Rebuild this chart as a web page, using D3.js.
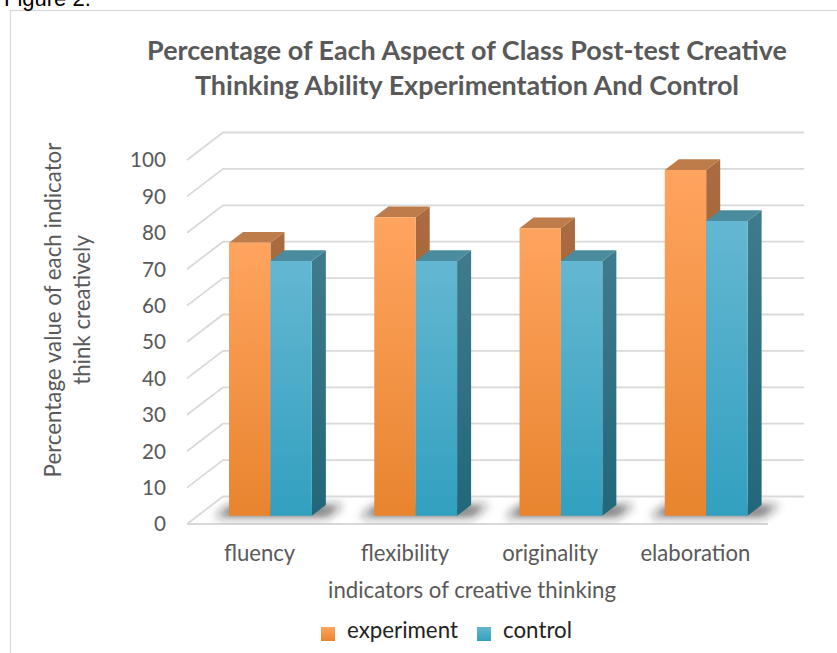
<!DOCTYPE html>
<html>
<head>
<meta charset="utf-8">
<script src="https://cdn.jsdelivr.net/npm/d3@7"></script>
<style>
  html, body { margin: 0; padding: 0; background: #fff; overflow: hidden; }
  svg text { font-family: Lato, "Open Sans", sans-serif; }
</style>
</head>
<body>
<svg id="chart" width="837" height="653"></svg>
<script>
// ---- data ----
const categories = ["fluency", "flexibility", "originality", "elaboration"];
const seriesNames = ["experiment", "control"];
const experiment = [75, 82, 79, 95];
const control = [70, 70, 70, 81];
const yTicks = [0, 10, 20, 30, 40, 50, 60, 70, 80, 90, 100];
const titleLines = ["Percentage of Each Aspect of Class Post-test Creative",
                    "Thinking Ability Experimentation And Control"];
const yTitleLines = ["Percentage value of each indicator", "think creatively"];
const xTitle = "indicators of creative thinking";

const values = { experiment, control };

// ---- geometry of the oblique 3-D box ----
const svg = d3.select("#chart");
const X0 = 187, X1 = 768;            // front plane, left/right
const DEPTH = { dx: 36, dy: -27.5 }; // vector from front to back wall
const BAR_D0 = 0.30, BAR_D1 = 0.69;  // depth slice occupied by the columns

const x = d3.scaleBand().domain(categories).range([X0, X1])
  .paddingInner(0.43).paddingOuter(0.215);
const xs = d3.scaleBand().domain(seriesNames).range([0, x.bandwidth()]);
const y = d3.scaleLinear().domain([0, 100]).range([524, 160]);

const P = (px, py, d) => [px + d * DEPTH.dx, py + d * DEPTH.dy];
const poly = pts => pts.map(p => p.join(",")).join(" ");

// ---- gradients ----
const defs = svg.append("defs");
function vGrad(id, c0, c1) {
  const g = defs.append("linearGradient").attr("id", id)
    .attr("x1", 0).attr("y1", 0).attr("x2", 0).attr("y2", 1);
  g.append("stop").attr("offset", "0%").attr("stop-color", c0);
  g.append("stop").attr("offset", "100%").attr("stop-color", c1);
}
vGrad("gExpFront", "#FFA45F", "#E8842E");
vGrad("gExpSide", "#A96B40", "#A05E2C");
vGrad("gCtlFront", "#64B7D2", "#32A0BF");
vGrad("gCtlSide", "#3F7B8C", "#22677A");
const palette = {
  experiment: { front: "url(#gExpFront)", side: "url(#gExpSide)", top: "#BE7C4B" },
  control:    { front: "url(#gCtlFront)", side: "url(#gCtlSide)", top: "#4A8B9E" }
};
defs.append("filter").attr("id", "soft").attr("x", "-50%").attr("y", "-50%")
  .attr("width", "200%").attr("height", "200%")
  .append("feGaussianBlur").attr("stdDeviation", 5);

// ---- outer frame + caption ----
svg.append("rect").attr("x", 10.5).attr("y", 10.5).attr("width", 900).attr("height", 700)
  .attr("fill", "none").attr("stroke", "#D9D9D9").attr("stroke-width", 1.3);
svg.append("text").attr("x", 4).attr("y", 6).attr("font-size", 22)
  .style("font-family", "'Liberation Sans', Arial, sans-serif").attr("fill", "#000")
  .text("Figure 2.");

// ---- title ----
function fit(sel, target) {
  const w = sel.node().getComputedTextLength();
  const fs = parseFloat(sel.attr("font-size"));
  return fs * target / w;
}
const title = svg.append("g");
titleLines.forEach((t, i) => {
  title.append("text").attr("x", 467).attr("y", 60 + i * 35)
    .attr("text-anchor", "middle").attr("font-size", 24).attr("font-weight", 700)
    .attr("fill", "#595959").text(t);
});
title.selectAll("text").attr("font-size", fit(title.select("text"), 640));

// ---- gridlines: side wall diagonals + back wall horizontals ----
const grid = svg.append("g").attr("fill", "none").attr("stroke", "#D9D9D9")
  .attr("stroke-width", 1.8);
grid.selectAll("polyline").data(yTicks).join("polyline")
  .attr("points", v => poly([P(X0, y(v), 0), P(X0, y(v), 1), P(X1, y(v), 1)]));
grid.append("line").attr("x1", X0).attr("x2", X1).attr("y1", y(0)).attr("y2", y(0));

// ---- y tick labels ----
const yAxisG = svg.append("g");
yAxisG.selectAll("text").data(yTicks).join("text")
  .attr("x", 166).attr("y", v => y(v)).attr("dy", "0.36em")
  .attr("text-anchor", "end").attr("font-size", 19).attr("fill", "#595959")
  .text(v => v);
yAxisG.selectAll("text").attr("font-size", fit(yAxisG.selectAll("text").filter(v => v === 100), 36));

// ---- floor shadows ----
const shadows = svg.append("g").attr("filter", "url(#soft)");
categories.forEach(c => {
  const xl = x(c) - 14, xr = x(c) + x.bandwidth() + 16, yb = y(0) + 1;
  shadows.append("polygon")
    .attr("points", poly([P(xl, yb, BAR_D0 - 0.02), P(xr, yb, BAR_D0 - 0.02),
                          P(xr, yb, BAR_D1 + 0.05), P(xl, yb, BAR_D1 + 0.05)]))
    .attr("fill", "#222").attr("opacity", 0.6);
});

// ---- 3-D columns ----
const bars = svg.append("g");
categories.forEach((c, i) => {
  seriesNames.forEach(s => {
    const v = values[s][i];
    const xl = x(c) + xs(s), xr = xl + xs.bandwidth();
    const yt = y(v), yb = y(0);
    const col = palette[s];
    const g = bars.append("g");
    // right side face
    g.append("polygon")
      .attr("points", poly([P(xr, yt, BAR_D0), P(xr, yt, BAR_D1), P(xr, yb, BAR_D1), P(xr, yb, BAR_D0)]))
      .attr("fill", col.side);
    // top face
    g.append("polygon")
      .attr("points", poly([P(xl, yt, BAR_D0), P(xr, yt, BAR_D0), P(xr, yt, BAR_D1), P(xl, yt, BAR_D1)]))
      .attr("fill", col.top);
    // front face
    const f0 = P(xl, yt, BAR_D0), f1 = P(xr, yb, BAR_D0);
    g.append("rect").attr("x", f0[0]).attr("y", f0[1])
      .attr("width", f1[0] - f0[0]).attr("height", f1[1] - f0[1])
      .attr("fill", col.front);
  });
});

// ---- category labels ----
const catG = svg.append("g");
catG.selectAll("text").data(categories).join("text")
  .attr("x", c => x(c) + x.bandwidth() / 2).attr("y", 561)
  .attr("text-anchor", "middle").attr("font-size", 19).attr("fill", "#595959")
  .text(c => c);
catG.selectAll("text").attr("font-size", fit(catG.selectAll("text").filter(c => c === "elaboration"), 110));

// ---- axis titles ----
const xt = svg.append("text").attr("x", 472).attr("y", 598)
  .attr("text-anchor", "middle").attr("font-size", 19).attr("fill", "#595959").text(xTitle);
xt.attr("font-size", fit(xt, 288));

const yT = svg.append("g").attr("transform", "translate(0,310) rotate(-90)");
yTitleLines.forEach((t, i) => {
  yT.append("text").attr("x", 0).attr("y", 61 + i * 29)
    .attr("text-anchor", "middle").attr("font-size", 19).attr("fill", "#595959").text(t);
});
yT.selectAll("text").attr("font-size", fit(yT.select("text"), 335));

// ---- legend ----
const legend = svg.append("g");
const legendX = [321, 477];
seriesNames.forEach((s, i) => {
  legend.append("rect").attr("x", legendX[i]).attr("y", 627).attr("width", 14).attr("height", 14)
    .attr("fill", palette[s].front);
  legend.append("text").attr("x", legendX[i] + 26).attr("y", 638)
    .attr("font-size", 19).attr("fill", "#222").text(s);
});
legend.selectAll("text").attr("font-size", fit(legend.select("text"), 111));
</script>
</body>
</html>
